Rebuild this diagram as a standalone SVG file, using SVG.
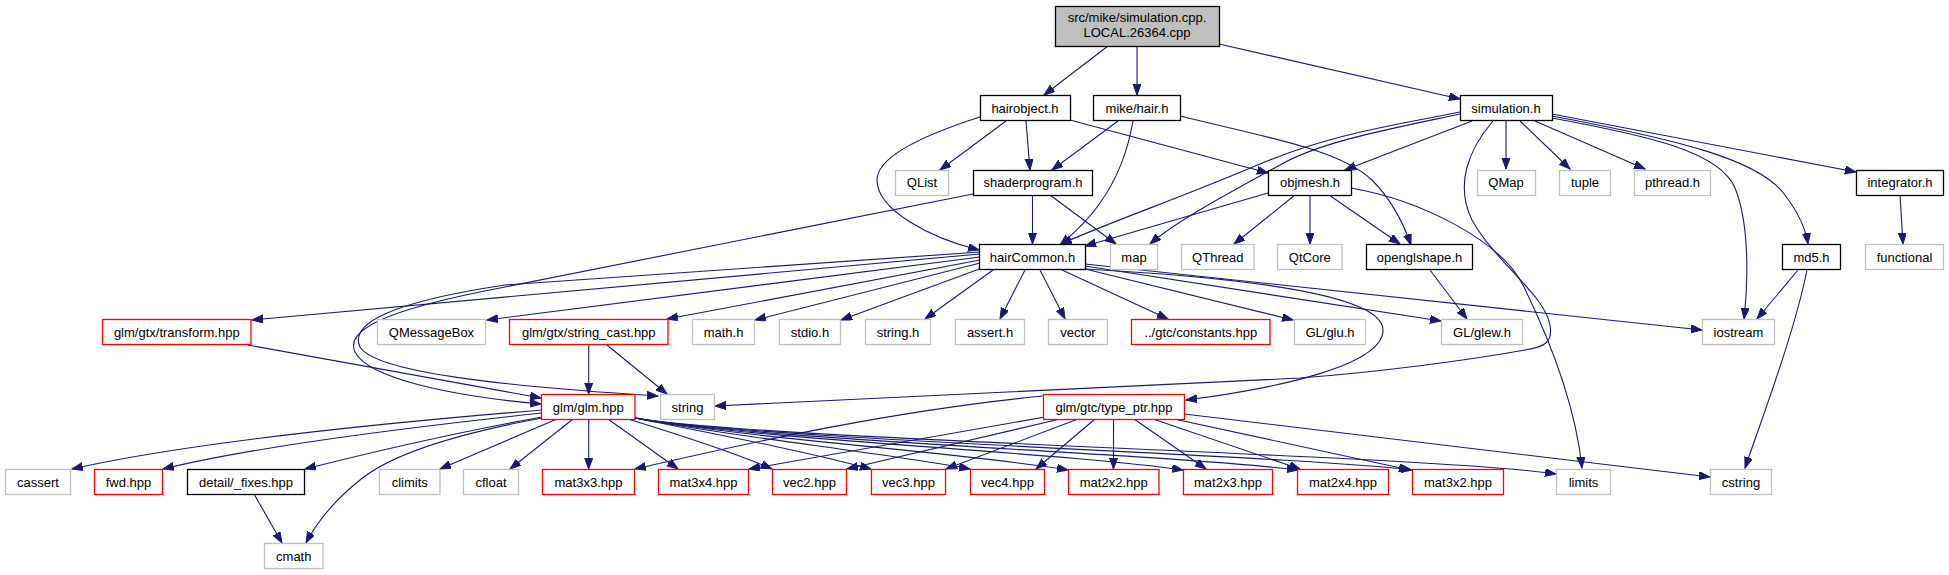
<svg xmlns="http://www.w3.org/2000/svg" width="1949" height="575" viewBox="0 0 1949 575">
<style>
rect{fill:#fff;stroke-width:1.3}
.k rect{stroke:#000}
.g rect{stroke:#bfbfbf}
.r rect{stroke:#ff0000}
.root rect{fill:#bfbfbf;stroke:#000}
text{font-family:"Liberation Sans",Arial,sans-serif;font-size:13px;text-anchor:middle;fill:#000}
#edges path{fill:none;stroke:#191970;stroke-width:1.1;marker-end:url(#ah)}
</style>
<defs>
<marker id="ah" markerUnits="userSpaceOnUse" markerWidth="12" markerHeight="9" refX="11" refY="4" orient="auto">
<path d="M0,0 L11,4 L0,8 z" fill="#191970" stroke="#191970" stroke-width="1"/>
</marker>
</defs>
<rect x="0" y="0" width="1949" height="575" style="fill:#fff;stroke:none"/>
<g id="edges">
<path d="M1108,46 L1044,95"/>
<path d="M1137,46 L1137,95"/>
<path d="M1219,44 L1460,99"/>
<path d="M1006,121 L940,170"/>
<path d="M1026,121 L1030,170"/>
<path d="M980,117 C930,133 877,155 877,180 C877,210 930,238 979,250"/>
<path d="M1070,120 L1268,173"/>
<path d="M1118,121 L1052,170"/>
<path d="M1133,121 C1128,150 1118,178 1100,203 C1087,222 1072,235 1060,245"/>
<path d="M1180,116 C1270,138 1340,150 1372,180 C1392,200 1404,225 1411,245"/>
<path d="M1032.5,195 L1032.5,244"/>
<path d="M1050,195 L1116,244"/>
<path d="M973,194 L500,288 C385,310 345,330 355,352 C368,378 450,396 541,404"/>
<path d="M1268,193 L1085,246"/>
<path d="M1295,195 L1234,244"/>
<path d="M1310,195 L1310,244"/>
<path d="M1329,195 L1400,244"/>
<path d="M1351,188 C1420,200 1500,240 1523,285 C1545,330 1575,400 1582,468"/>
<path d="M1460,112 C1390,126 1330,134 1255,166 C1185,196 1110,222 1061,244"/>
<path d="M1460,114 C1385,130 1320,142 1280,165 C1225,195 1175,222 1150,244"/>
<path d="M1472,121 L1345,170"/>
<path d="M1493,121 C1468,150 1455,185 1472,220 C1495,262 1545,295 1550,325 C1553,342 1545,347 1525,350 C1470,360 1380,372 1300,378 L715,406"/>
<path d="M1506,121 L1506,169"/>
<path d="M1520,121 L1570,169"/>
<path d="M1535,121 L1645,169"/>
<path d="M1552,114 L1856,172"/>
<path d="M1552,116 C1680,140 1760,160 1785,195 C1800,215 1806,230 1808,244"/>
<path d="M1552,118 C1650,136 1720,152 1735,188 C1750,225 1748,285 1744,319"/>
<path d="M1900,195 L1903,244"/>
<path d="M1798,270 L1757,319"/>
<path d="M1807,270 C1795,330 1765,410 1745,468"/>
<path d="M1430,270 L1467,319"/>
<path d="M980,254 L252,320"/>
<path d="M980,257 L487,320"/>
<path d="M980,260 L667,319"/>
<path d="M980,263 L755,320"/>
<path d="M982,268 L841,320"/>
<path d="M993,270 L925,319"/>
<path d="M1025,270 L1000,319"/>
<path d="M1040,270 L1065,319"/>
<path d="M1062,270 L1168,319"/>
<path d="M1085,269 L1293,320"/>
<path d="M1085,266 L1441,321"/>
<path d="M1085,264 L1702,330"/>
<path d="M980,252 L505,285 C385,303 350,325 360,347 C375,372 500,386 658,396"/>
<path d="M1085,269 C1250,278 1383,295 1383,330 C1383,365 1280,388 1186,400"/>
<path d="M588.7,345 L588.7,394"/>
<path d="M607,345 L667,394"/>
<path d="M248,345 L541,398"/>
<path d="M542,410 C420,420 200,440 72,469"/>
<path d="M542,413 C430,425 260,445 163,469"/>
<path d="M542,417 C470,430 380,450 305,469"/>
<path d="M542,418 C450,435 390,455 360,480 C335,500 318,520 306,543"/>
<path d="M557,419 L440,469"/>
<path d="M573,419 L510,469"/>
<path d="M588.7,419 L588.7,469"/>
<path d="M608,419 L678,469"/>
<path d="M628,419 C680,435 740,455 772,469"/>
<path d="M635,418 C720,435 800,450 871,469"/>
<path d="M635,418 C740,438 880,452 970,469"/>
<path d="M635,418 C760,440 960,452 1068,470"/>
<path d="M635,418 C760,440 1060,452 1183,470"/>
<path d="M635,418 C760,440 1170,454 1298,470"/>
<path d="M635,418 C760,440 1290,455 1412,470"/>
<path d="M635,418 C760,440 1430,455 1556,474"/>
<path d="M254,494 L282,543"/>
<path d="M1043,396 C900,410 760,440 635,469"/>
<path d="M1045,417 L749,469"/>
<path d="M1060,419 L847,469"/>
<path d="M1078,419 L946,469"/>
<path d="M1095,419 L1036,469"/>
<path d="M1113.5,419 L1113.5,469"/>
<path d="M1134,419 L1206,469"/>
<path d="M1153,419 L1300,469"/>
<path d="M1174,419 L1410,470"/>
<path d="M1184,414 L1710,477"/>
</g>
<g id="n_root" class="root"><rect x="1055.5" y="6.5" width="164" height="40"/><text x="1137" y="22">src/mike/simulation.cpp.</text><text x="1137" y="37">LOCAL.26364.cpp</text></g>
<g id="n_hairobject" class="k"><rect x="980.5" y="95.5" width="90" height="25"/><text x="1025" y="112.5">hairobject.h</text></g>
<g id="n_mikehair" class="k"><rect x="1093.5" y="95.5" width="87" height="25"/><text x="1137" y="112.5">mike/hair.h</text></g>
<g id="n_simulation" class="k"><rect x="1460.5" y="95.5" width="92" height="25"/><text x="1506" y="112.5">simulation.h</text></g>
<g id="n_qlist" class="g"><rect x="895.5" y="170.5" width="53" height="25"/><text x="922" y="187">QList</text></g>
<g id="n_shaderprogram" class="k"><rect x="973.5" y="170.5" width="119" height="25"/><text x="1033" y="187">shaderprogram.h</text></g>
<g id="n_objmesh" class="k"><rect x="1268.5" y="170.5" width="83" height="25"/><text x="1310" y="187">objmesh.h</text></g>
<g id="n_qmap" class="g"><rect x="1477.5" y="170.5" width="58" height="25"/><text x="1506" y="187">QMap</text></g>
<g id="n_tuple" class="g"><rect x="1559.5" y="170.5" width="51" height="25"/><text x="1585" y="187">tuple</text></g>
<g id="n_pthread" class="g"><rect x="1634.5" y="170.5" width="76" height="25"/><text x="1672.5" y="187">pthread.h</text></g>
<g id="n_integrator" class="k"><rect x="1856.5" y="170.5" width="87" height="25"/><text x="1900" y="187">integrator.h</text></g>
<g id="n_haircommon" class="k"><rect x="979.5" y="244.5" width="106" height="25"/><text x="1032.5" y="261.5">hairCommon.h</text></g>
<g id="n_map" class="g"><rect x="1110.5" y="244.5" width="47" height="25"/><text x="1134" y="261.5">map</text></g>
<g id="n_qthread" class="g"><rect x="1181.5" y="244.5" width="72.5" height="25"/><text x="1217.75" y="261.5">QThread</text></g>
<g id="n_qtcore" class="g"><rect x="1277.5" y="244.5" width="64.5" height="25"/><text x="1309.75" y="261.5">QtCore</text></g>
<g id="n_openglshape" class="k"><rect x="1366.5" y="244.5" width="106" height="25"/><text x="1419.5" y="261.5">openglshape.h</text></g>
<g id="n_md5" class="k"><rect x="1782.5" y="244.5" width="58" height="25"/><text x="1811.5" y="261.5">md5.h</text></g>
<g id="n_functional" class="g"><rect x="1865.5" y="244.5" width="78" height="25"/><text x="1904.5" y="261.5">functional</text></g>
<g id="n_transform" class="r"><rect x="102.5" y="319.5" width="148.5" height="25"/><text x="176.75" y="336.5">glm/gtx/transform.hpp</text></g>
<g id="n_qmessagebox" class="g"><rect x="377.5" y="319.5" width="108" height="25"/><text x="431.5" y="336.5">QMessageBox</text></g>
<g id="n_stringcast" class="r"><rect x="509.5" y="319.5" width="158.5" height="25"/><text x="588.75" y="336.5">glm/gtx/string_cast.hpp</text></g>
<g id="n_math" class="g"><rect x="692.5" y="319.5" width="62" height="25"/><text x="723.5" y="336.5">math.h</text></g>
<g id="n_stdio" class="g"><rect x="779.5" y="319.5" width="61" height="25"/><text x="810" y="336.5">stdio.h</text></g>
<g id="n_stringh" class="g"><rect x="865.5" y="319.5" width="65" height="25"/><text x="898" y="336.5">string.h</text></g>
<g id="n_assert" class="g"><rect x="955.5" y="319.5" width="69" height="25"/><text x="990" y="336.5">assert.h</text></g>
<g id="n_vector" class="g"><rect x="1048.5" y="319.5" width="59" height="25"/><text x="1078" y="336.5">vector</text></g>
<g id="n_constants" class="r"><rect x="1131.5" y="319.5" width="138.5" height="25"/><text x="1200.75" y="336.5">../gtc/constants.hpp</text></g>
<g id="n_glu" class="g"><rect x="1294.5" y="319.5" width="71" height="25"/><text x="1330" y="336.5">GL/glu.h</text></g>
<g id="n_glew" class="g"><rect x="1441.5" y="319.5" width="81" height="25"/><text x="1482" y="336.5">GL/glew.h</text></g>
<g id="n_iostream" class="g"><rect x="1702.5" y="319.5" width="72" height="25"/><text x="1738.5" y="336.5">iostream</text></g>
<g id="n_glm" class="r"><rect x="541.5" y="394.5" width="93.5" height="25"/><text x="588.25" y="411.5">glm/glm.hpp</text></g>
<g id="n_string" class="g"><rect x="660.5" y="394.5" width="54" height="25"/><text x="687.5" y="411.5">string</text></g>
<g id="n_typeptr" class="r"><rect x="1043.5" y="394.5" width="141" height="25"/><text x="1114" y="411.5">glm/gtc/type_ptr.hpp</text></g>
<g id="n_cassert" class="g"><rect x="5.5" y="469.5" width="65" height="25"/><text x="38" y="486.5">cassert</text></g>
<g id="n_fwd" class="r"><rect x="94.5" y="469.5" width="68" height="25"/><text x="128.5" y="486.5">fwd.hpp</text></g>
<g id="n_fixes" class="k"><rect x="187.5" y="469.5" width="117" height="25"/><text x="246" y="486.5">detail/_fixes.hpp</text></g>
<g id="n_climits" class="g"><rect x="379.5" y="469.5" width="60.5" height="25"/><text x="409.75" y="486.5">climits</text></g>
<g id="n_cfloat" class="g"><rect x="463.5" y="469.5" width="55" height="25"/><text x="491" y="486.5">cfloat</text></g>
<g id="n_mat3x3" class="r"><rect x="542.5" y="469.5" width="92" height="25"/><text x="588.5" y="486.5">mat3x3.hpp</text></g>
<g id="n_mat3x4" class="r"><rect x="658.5" y="469.5" width="90" height="25"/><text x="703.5" y="486.5">mat3x4.hpp</text></g>
<g id="n_vec2" class="r"><rect x="772.5" y="469.5" width="74" height="25"/><text x="809.5" y="486.5">vec2.hpp</text></g>
<g id="n_vec3" class="r"><rect x="871.5" y="469.5" width="74" height="25"/><text x="908.5" y="486.5">vec3.hpp</text></g>
<g id="n_vec4" class="r"><rect x="970.5" y="469.5" width="74" height="25"/><text x="1007.5" y="486.5">vec4.hpp</text></g>
<g id="n_mat2x2" class="r"><rect x="1068.5" y="469.5" width="90.5" height="25"/><text x="1113.75" y="486.5">mat2x2.hpp</text></g>
<g id="n_mat2x3" class="r"><rect x="1183.5" y="469.5" width="89" height="25"/><text x="1228" y="486.5">mat2x3.hpp</text></g>
<g id="n_mat2x4" class="r"><rect x="1297.5" y="469.5" width="91" height="25"/><text x="1343" y="486.5">mat2x4.hpp</text></g>
<g id="n_mat3x2" class="r"><rect x="1412.5" y="469.5" width="91" height="25"/><text x="1458" y="486.5">mat3x2.hpp</text></g>
<g id="n_limits" class="g"><rect x="1556.5" y="469.5" width="54" height="25"/><text x="1583.5" y="486.5">limits</text></g>
<g id="n_cstring" class="g"><rect x="1710.5" y="469.5" width="61" height="25"/><text x="1741" y="486.5">cstring</text></g>
<g id="n_cmath" class="g"><rect x="264.5" y="543.5" width="58.5" height="25"/><text x="293.75" y="560.5">cmath</text></g>
</svg>
